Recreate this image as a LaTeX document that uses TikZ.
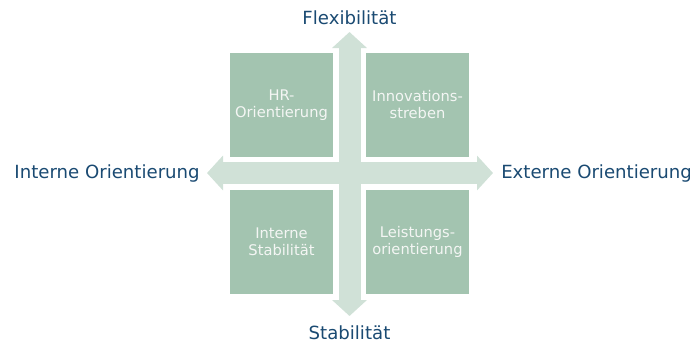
\documentclass[tikz,border=0pt]{standalone}
\usepackage{fontspec}
\setmainfont{DejaVu Sans}
\usetikzlibrary{arrows.meta}
\definecolor{boxgreen}{HTML}{A3C4B0}
\definecolor{axisgreen}{HTML}{D0E1D7}
\definecolor{labelblue}{HTML}{1A4A72}
\definecolor{boxtext}{HTML}{F4F6F4}
\tikzset{
  quad/.style={fill=boxgreen, minimum width=77.25pt, minimum height=78pt,
    inner sep=0pt, text=boxtext, align=center,
    font=\fontsize{11}{12.75}\selectfont},
  pole/.style={text=labelblue, inner sep=0pt, font=\fontsize{13.6}{15}\selectfont},
  axis/.style={draw=axisgreen, line width=16.5pt,
    {Triangle[length=12pt,width=25.5pt]}-{Triangle[length=12pt,width=25.5pt]}}
}

\begin{document}
\begin{tikzpicture}[x=0.75pt,y=-0.75pt]
\useasboundingbox (0,0) rectangle (690,344);
% poles of the two axes
\coordinate (top) at (349.5,32);
\coordinate (bottom) at (349.5,316);
\coordinate (left) at (207,173);
\coordinate (right) at (493,173);
\draw[axis] (bottom) -- (top);
\draw[axis] (left) -- (right);
% the four quadrants
\node[quad] (hr) at (281.5,105) {HR-\\Orientierung};
\node[quad] (innov) at (417.5,105) {Innovations-\\streben};
\node[quad] (stab) at (281.5,241.5) {Interne\\Stabilität};
\node[quad] (leist) at (417.5,241.5) {Leistungs-\\orientierung};
% axis labels
\node[pole] (flex) at (349.5,18) {Flexibilität};
\node[pole] (stabil) at (349.5,333) {Stabilität};
\node[pole, anchor=east] (intern) at (200,173) {Interne Orientierung};
\node[pole, anchor=west] (extern) at (501,173) {Externe Orientierung};
\end{tikzpicture}
\end{document}
